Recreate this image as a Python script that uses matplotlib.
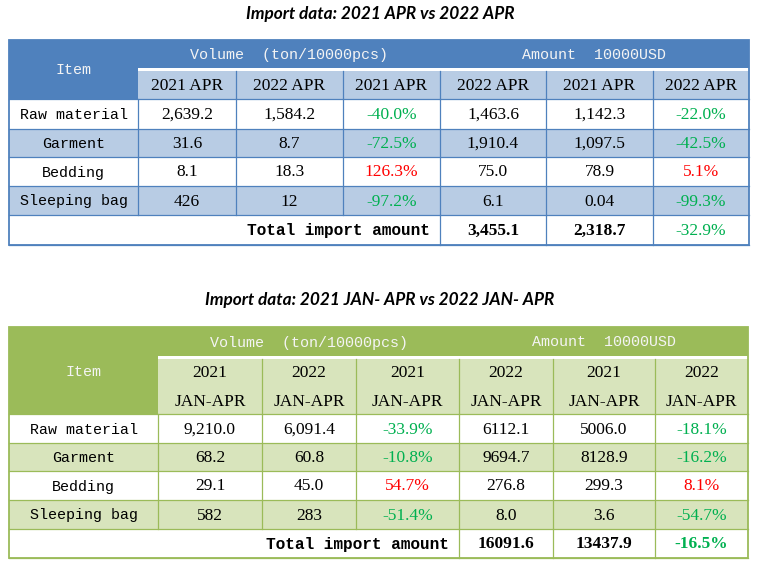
import matplotlib
matplotlib.use("Agg")
import matplotlib.pyplot as plt
from matplotlib.patches import Rectangle

# ---------------- data ----------------
items = ["Raw material", "Garment", "Bedding", "Sleeping bag"]

t1_title = "Import data: 2021 APR vs 2022 APR"
t1_group = ["Volume  (ton/10000pcs)", "Amount  10000USD"]
t1_sub = ["2021 APR", "2022 APR", "2021 APR", "2022 APR", "2021 APR", "2022 APR"]
t1_vol_a = [2639.2, 31.6, 8.1, 426]
t1_vol_b = [1584.2, 8.7, 18.3, 12]
t1_vol_pct = [-40.0, -72.5, 126.3, -97.2]
t1_amt_a = [1463.6, 1910.4, 75.0, 6.1]
t1_amt_b = [1142.3, 1097.5, 78.9, 0.04]
t1_amt_pct = [-22.0, -42.5, 5.1, -99.3]
t1_total = [3455.1, 2318.7, -32.9]

t2_title = "Import data: 2021 JAN- APR vs 2022 JAN- APR"
t2_group = ["Volume  (ton/10000pcs)", "Amount  10000USD"]
t2_sub = ["2021\nJAN-APR", "2022\nJAN-APR", "2021\nJAN-APR",
          "2022\nJAN-APR", "2021\nJAN-APR", "2022\nJAN-APR"]
t2_vol_a = [9210.0, 68.2, 29.1, 582]
t2_vol_b = [6091.4, 60.8, 45.0, 283]
t2_vol_pct = [-33.9, -10.8, 54.7, -51.4]
t2_amt_a = [6112.1, 9694.7, 276.8, 8.0]
t2_amt_b = [5006.0, 8128.9, 299.3, 3.6]
t2_amt_pct = [-18.1, -16.2, 8.1, -54.7]
t2_total = [16091.6, 13437.9, -16.5]

total_label = "Total import amount"

# ---------------- layout ----------------
W, H = 758, 568
fig = plt.figure(figsize=(W / 100, H / 100), dpi=100)
ax = fig.add_axes([0, 0, 1, 1])
ax.set_xlim(0, W)
ax.set_ylim(H, 0)
ax.axis("off")

GREEN = "#00B050"
RED = "#FF0000"
MONO = "Liberation Mono"
SERIF = "Liberation Serif"
VS = 12.5   # value font size
MS = 10.8   # mono font size


def fmt(v, sep):
    return f"{v:,}" if sep else f"{v}"


def pct(v):
    return f"{v:.1f}%"


def draw_table(cfg):
    xs = cfg["xs"]
    ys = cfg["ys"]  # top, split, hdr_bottom, row edges..., bottom
    dark, light = cfg["dark"], cfg["light"]
    lw = 0.9
    x0, xr = xs[0], xs[-1]
    ytop, ysplit, yhb = ys[0], ys[1], ys[2]
    rows = ys[2:]
    # title
    ax.text((x0 + xr) / 2 + 1, cfg["title_y"], cfg["title"], ha="center", va="center",
            fontsize=12.4, fontweight="bold", style="italic", family=["Lato", "DejaVu Sans"])
    # header
    ax.add_patch(Rectangle((x0, ytop), xs[1] - x0, yhb - ytop, fc=dark, ec="none"))
    ax.add_patch(Rectangle((xs[1], ytop), xr - xs[1], ysplit - ytop, fc=dark, ec="none"))
    ax.add_patch(Rectangle((xs[1], ysplit), xr - xs[1], 3, fc="white", ec="none"))
    ax.add_patch(Rectangle((xs[1], ysplit + 3), xr - xs[1], yhb - ysplit - 3, fc=light, ec="none"))
    for x in xs[2:-1]:
        ax.plot([x, x], [ysplit + 3, yhb], color=dark, lw=lw)
    ax.text((x0 + xs[1]) / 2, (ytop + yhb) / 2 + 1, "Item", ha="center", va="center",
            fontsize=MS, family=MONO, color="#F4F4F4")
    ax.text((xs[1] + xs[4]) / 2, (ytop + ysplit) / 2 + 1, cfg["group"][0], ha="center",
            va="center", fontsize=MS, family=MONO, color="#F4F4F4")
    ax.text((xs[4] + xs[7]) / 2, (ytop + ysplit) / 2 + 1, cfg["group"][1], ha="center",
            va="center", fontsize=MS, family=MONO, color="#F4F4F4")
    for i, lab in enumerate(cfg["sub"]):
        lines = lab.split("\n")
        yc = (ysplit + 3 + yhb) / 2 + 1
        n = len(lines)
        for j, ln in enumerate(lines):
            yy = yc + (j - (n - 1) / 2) * 29
            ax.text((xs[i + 1] + xs[i + 2]) / 2, yy, ln, ha="center",
                    va="center", fontsize=VS, family=SERIF, color="black")
    # data rows
    cols = cfg["cols"]
    nrow = len(items)
    for r in range(nrow):
        ya, yb = rows[r], rows[r + 1]
        fc = light if r % 2 == 1 else "white"
        ax.add_patch(Rectangle((x0, ya), xr - x0, yb - ya, fc=fc, ec="none"))
        yc = (ya + yb) / 2 + 1
        ax.text((x0 + xs[1]) / 2, yc, items[r], ha="center", va="center",
                fontsize=MS, family=MONO, color="black")
        for c, (vals, kind) in enumerate(cols):
            v = vals[r]
            if kind == "pct":
                txt, col = pct(v), (GREEN if v < 0 else RED)
            else:
                txt, col = fmt(v, kind == "sep"), "black"
            ax.text((xs[c + 1] + xs[c + 2]) / 2, yc, txt, ha="center", va="center",
                    fontsize=VS, family=SERIF, color=col)
    # total row
    ya, yb = rows[nrow], rows[nrow + 1]
    yc = (ya + yb) / 2 + 1
    ax.text(xs[4] - 10, yc, total_label, ha="right", va="center", fontsize=11.6,
            family=MONO, fontweight="bold", color="black")
    tot = cfg["total"]
    for k in range(2):
        ax.text((xs[4 + k] + xs[5 + k]) / 2, yc, fmt(tot[k], cfg["total_sep"]), ha="center",
                va="center", fontsize=VS, family=SERIF, fontweight="bold", color="black")
    ax.text((xs[6] + xs[7]) / 2, yc, pct(tot[2]), ha="center", va="center", fontsize=VS,
            family=SERIF, color=GREEN if tot[2] < 0 else RED,
            fontweight="bold" if cfg["total_pct_bold"] else "normal")
    # grid lines
    for y in rows:
        ax.plot([x0, xr], [y, y], color=dark, lw=lw)
    for x in xs[1:-1]:
        ax.plot([x, x], [rows[0], rows[nrow]], color=dark, lw=lw)
    for x in xs[4:-1]:
        ax.plot([x, x], [rows[nrow], rows[nrow + 1]], color=dark, lw=lw)
    ax.add_patch(Rectangle((x0, ytop), xr - x0, rows[-1] - ytop, fc="none", ec=dark, lw=1.3))


draw_table(dict(
    title=t1_title, title_y=14, group=t1_group, sub=t1_sub,
    xs=[9, 138, 236, 343, 440, 546, 653, 749],
    ys=[40, 68, 99, 129, 157, 186, 215, 245],
    dark="#4F81BD", light="#B8CCE4",
    cols=[(t1_vol_a, "sep"), (t1_vol_b, "sep"), (t1_vol_pct, "pct"),
          (t1_amt_a, "sep"), (t1_amt_b, "sep"), (t1_amt_pct, "pct")],
    total=t1_total, total_sep=True, total_pct_bold=False,
))

draw_table(dict(
    title=t2_title, title_y=300, group=t2_group, sub=t2_sub,
    xs=[9, 158, 262, 356, 459, 553, 655, 748],
    ys=[327, 356, 414, 443, 471, 500, 529, 558],
    dark="#9BBB59", light="#D8E4BC",
    cols=[(t2_vol_a, "sep"), (t2_vol_b, "sep"), (t2_vol_pct, "pct"),
          (t2_amt_a, "plain"), (t2_amt_b, "plain"), (t2_amt_pct, "pct")],
    total=t2_total, total_sep=False, total_pct_bold=True,
))

fig.savefig("out.png", dpi=100, facecolor="white")
